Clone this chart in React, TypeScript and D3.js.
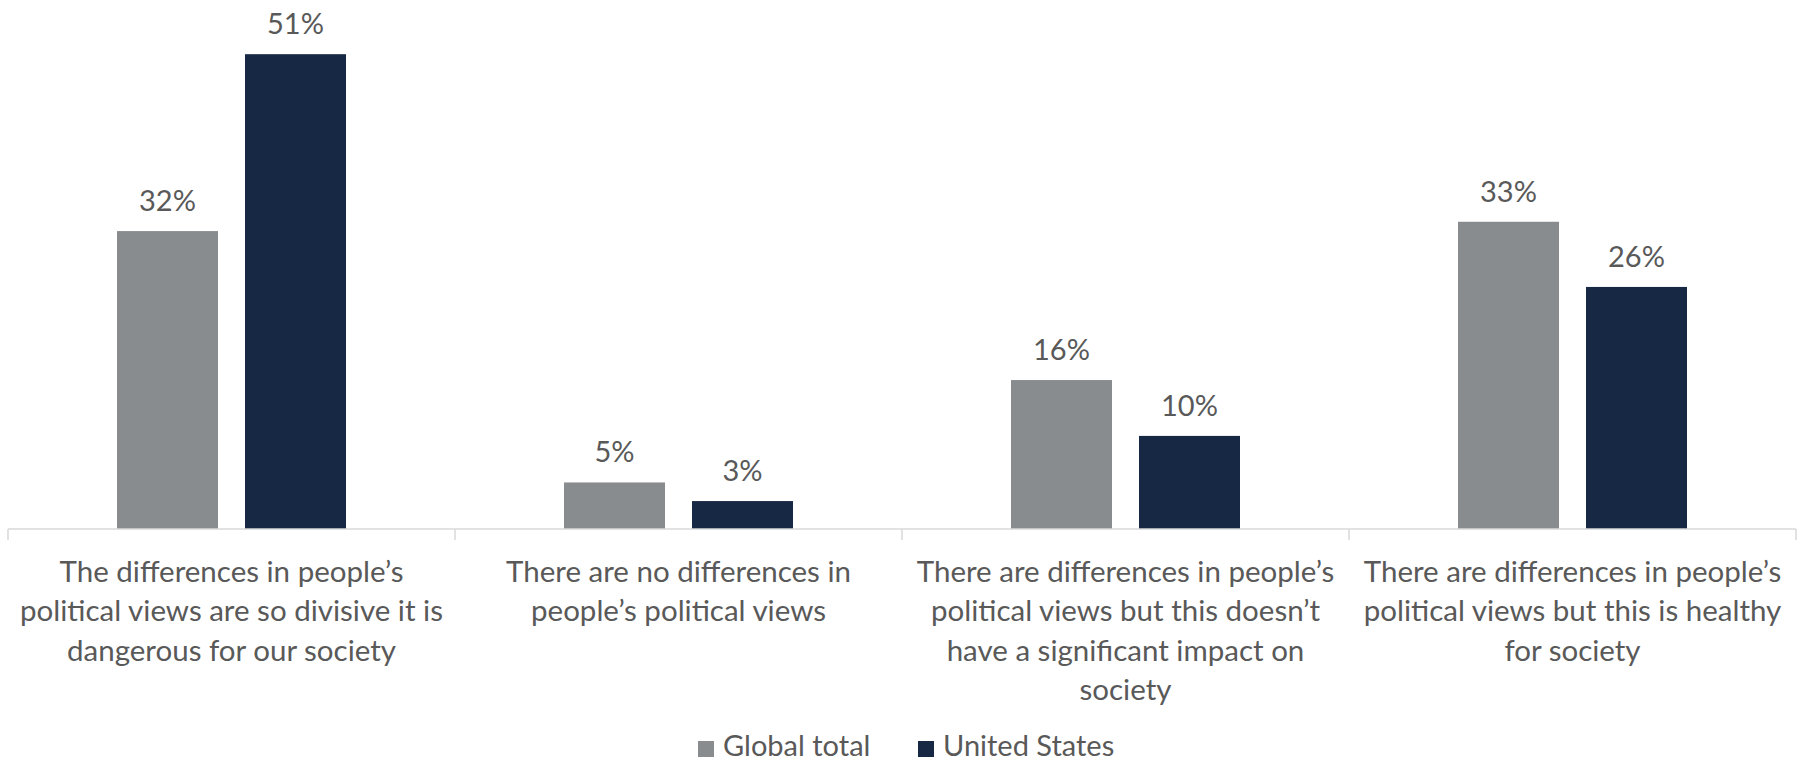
import React from "react";
import * as d3 from "d3";

const categories: string[][] = [
  ["The differences in people’s", "political views are so divisive it is", "dangerous for our society"],
  ["There are no differences in", "people’s political views"],
  ["There are differences in people’s", "political views but this doesn’t", "have a significant impact on", "society"],
  ["There are differences in people’s", "political views but this is healthy", "for society"],
];
const seriesNames = ["Global total", "United States"];
const globalTotal = [32, 5, 16, 33];
const unitedStates = [51, 3, 10, 26];
const colors = ["#898C8F", "#172845"];

const W = 1806;
const H = 763;
const FONT = "Lato, 'Open Sans', sans-serif";
const TEXT = "#595959";

export default function App() {
  const idx = categories.map((_, i) => String(i));
  const x0 = d3.scaleBand<string>().domain(idx).range([8, 1796]).paddingInner(0).paddingOuter(0);
  const x1 = d3
    .scaleBand<string>()
    .domain(seriesNames)
    .range([0, x0.bandwidth()])
    .paddingInner(0.211)
    .paddingOuter(0.8516);
  const baseY = 529;
  const y = d3.scaleLinear().domain([0, 55]).range([baseY, baseY - 55 * 9.31]);
  const values = [globalTotal, unitedStates];
  const boundaries = idx.map((k) => x0(k) as number).concat([x0.range()[1]]);

  return (
    <div style={{ position: "absolute", left: 0, top: 0 }}>
      <svg width={W} height={H} style={{ display: "block", background: "#fff" }} fontFamily={FONT}>
        {idx.map((k, ci) =>
          seriesNames.map((s, si) => {
            const v = values[si][ci];
            const bx = (x0(k) as number) + (x1(s) as number);
            const bw = x1.bandwidth();
            return (
              <g key={k + s}>
                <rect x={bx} y={y(v)} width={bw} height={baseY - y(v)} fill={colors[si]} />
                <text
                  x={bx + bw / 2}
                  y={y(v) - 20}
                  textAnchor="middle"
                  fontSize={29}
                  fill={TEXT}
                >
                  {v}%
                </text>
              </g>
            );
          })
        )}
        <line x1={x0.range()[0]} x2={x0.range()[1]} y1={baseY} y2={baseY} stroke="#D9D9D9" strokeWidth={1.5} />
        {boundaries.map((bx, i) => (
          <line key={i} x1={bx} x2={bx} y1={baseY} y2={baseY + 11} stroke="#D9D9D9" strokeWidth={1.5} />
        ))}
        {idx.map((k, ci) => (
          <text
            key={k}
            x={(x0(k) as number) + x0.bandwidth() / 2}
            y={582}
            textAnchor="middle"
            fontSize={29.5}
            fill={TEXT}
          >
            {categories[ci].map((line, li) => (
              <tspan key={li} x={(x0(k) as number) + x0.bandwidth() / 2} dy={li === 0 ? 0 : 39.3}>
                {line}
              </tspan>
            ))}
          </text>
        ))}
        {[
          { x: 698, name: seriesNames[0], c: colors[0] },
          { x: 918, name: seriesNames[1], c: colors[1] },
        ].map((l) => (
          <g key={l.name}>
            <rect x={l.x} y={741} width={16} height={16} fill={l.c} />
            <text x={l.x + 25} y={756} fontSize={29} fill={TEXT}>
              {l.name}
            </text>
          </g>
        ))}
      </svg>
    </div>
  );
}
